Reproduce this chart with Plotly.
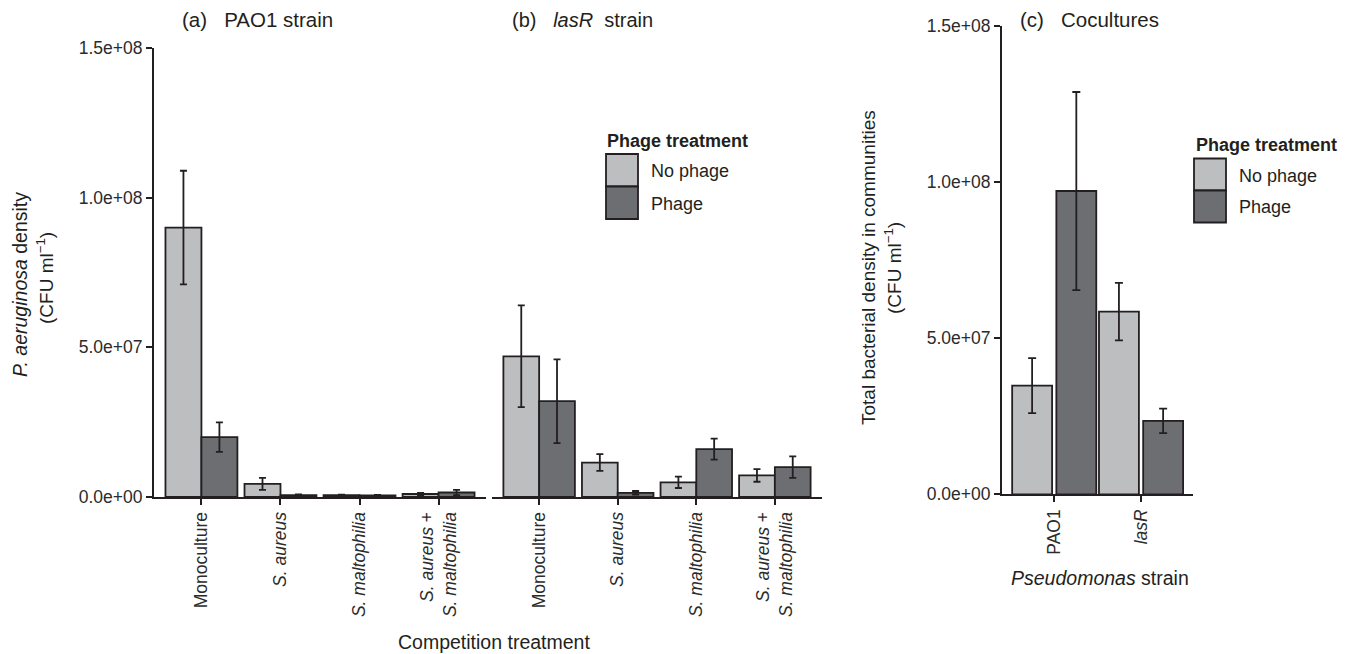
import plotly.graph_objects as go

W, H = 1354, 654

# ---------------- data ----------------
competition = ["Monoculture", "S. aureus", "S. maltophilia", "S. aureus + S. maltophilia"]
competition_ticks = ["Monoculture", "<i>S. aureus</i>", "<i>S. maltophilia</i>",
                     "<i>S. aureus</i> +<br><i>S. maltophilia</i>"]
phage_groups = ["No phage", "Phage"]

pao1_nophage = [9.0e7, 4.4e6, 6.0e5, 1.0e6]
pao1_nophage_err = [1.9e7, 2.0e6, 2.0e5, 4.0e5]
pao1_phage = [2.0e7, 6.0e5, 5.0e5, 1.5e6]
pao1_phage_err = [4.9e6, 3.0e5, 2.0e5, 9.0e5]

lasr_nophage = [4.7e7, 1.15e7, 4.9e6, 7.2e6]
lasr_nophage_err = [1.7e7, 2.8e6, 1.9e6, 2.1e6]
lasr_phage = [3.2e7, 1.4e6, 1.6e7, 1.0e7]
lasr_phage_err = [1.4e7, 6.0e5, 3.5e6, 3.6e6]

strains = ["PAO1", "lasR"]
strain_ticks = ["PAO1", "<i>lasR</i>"]
coculture_nophage = [3.48e7, 5.85e7]
coculture_nophage_err = [8.8e6, 9.2e6]
coculture_phage = [9.71e7, 2.35e7]
coculture_phage_err = [3.17e7, 3.9e6]

y_tickvals = [0, 5e7, 1e8, 1.5e8]
y_ticktext = ["0.0e+00", "5.0e+07", "1.0e+08", "1.5e+08"]

# ---------------- style ----------------
FONT = "Liberation Sans, Arial, Helvetica, sans-serif"
INK = "#231f20"
TICK_INK = "#2b2b2b"
LIGHT = "#bdbec0"
DARK = "#6d6e71"
colors = {"No phage": LIGHT, "Phage": DARK}


def px(x):
    return x / W


def py(y):
    return 1 - y / H


fig = go.Figure()


def add_bars(x, y, err, name, xaxis, yaxis, offset, width, cap):
    fig.add_trace(go.Bar(
        x=x, y=y, name=name, xaxis=xaxis, yaxis=yaxis,
        offset=offset, width=width,
        marker=dict(color=colors[name], line=dict(color=INK, width=1.8)),
        error_y=dict(type="data", array=err, visible=True, color=INK,
                     thickness=1.8, width=cap),
        showlegend=False,
    ))


add_bars(competition, pao1_nophage, pao1_nophage_err, "No phage", "x", "y", -0.455, 0.455, 3.5)
add_bars(competition, pao1_phage, pao1_phage_err, "Phage", "x", "y", 0.0, 0.455, 3.5)
add_bars(competition, lasr_nophage, lasr_nophage_err, "No phage", "x2", "y", -0.455, 0.455, 3.5)
add_bars(competition, lasr_phage, lasr_phage_err, "Phage", "x2", "y", 0.0, 0.455, 3.5)
add_bars(strains, coculture_nophage, coculture_nophage_err, "No phage", "x3", "y2", -0.483, 0.46, 4)
add_bars(strains, coculture_phage, coculture_phage_err, "Phage", "x3", "y2", 0.026, 0.46, 4)

tickfont = dict(family=FONT, size=17.5, color=TICK_INK)
xcommon = dict(type="category", showline=True, linecolor=INK, linewidth=2,
               ticks="outside", ticklen=6, tickwidth=2, tickcolor=INK,
               tickangle=-90, tickfont=tickfont, showgrid=False, zeroline=False,
               fixedrange=True, automargin=False)
ycommon = dict(range=[0, 1.5e8], tickvals=y_tickvals, ticktext=y_ticktext,
               showline=True, linecolor=INK, linewidth=2,
               ticks="outside", ticklen=6, tickwidth=2, tickcolor=INK,
               tickfont=tickfont, showgrid=False, zeroline=False,
               fixedrange=True, automargin=False)

ab_y = [py(497), py(48)]
c_y = [py(494.3), py(25.8)]

fig.update_layout(
    width=W, height=H,
    autosize=False,
    margin=dict(l=0, r=0, t=0, b=0, pad=0, autoexpand=False),
    paper_bgcolor="white", plot_bgcolor="white",
    barmode="overlay",
    showlegend=False,
    font=dict(family=FONT, color=INK),
    xaxis=dict(domain=[px(154), px(486)], range=[-0.6, 3.6], anchor="y",
               categoryarray=competition, tickvals=competition,
               ticktext=competition_ticks, **xcommon),
    xaxis2=dict(domain=[px(492), px(822)], range=[-0.6, 3.6], anchor="y",
                categoryarray=competition, tickvals=competition,
                ticktext=competition_ticks, **xcommon),
    xaxis3=dict(domain=[px(1002), px(1193)], range=[-0.6, 1.6], anchor="y2",
                categoryarray=strains, tickvals=strains,
                ticktext=strain_ticks, **xcommon),
    yaxis=dict(domain=ab_y, anchor="x", **ycommon),
    yaxis2=dict(domain=c_y, anchor="x3", **ycommon),
)

annotations = []


def text(x, y, s, size=18, angle=0, xanchor="center", yanchor="middle", bold=False):
    if bold:
        s = "<b>" + s + "</b>"
    annotations.append(dict(x=px(x), y=py(y), xref="paper", yref="paper",
                            text=s, showarrow=False, textangle=angle,
                            xanchor=xanchor, yanchor=yanchor,
                            font=dict(family=FONT, size=size, color=INK)))


SP3 = "&nbsp;&nbsp;&nbsp;"
SP2 = "&nbsp;&nbsp;"
# panel titles
text(180, 20, "(a)" + SP3 + "PAO1 strain", size=20.5, xanchor="left")
text(510, 20, "(b)" + SP3 + "<i>lasR</i>" + SP2 + "strain", size=20, xanchor="left")
text(1018, 20, "(c)" + SP3 + "Cocultures", size=20.5, xanchor="left")

# axis titles
text(20, 285, "<i>P. aeruginosa</i> density", size=19.5, angle=-90)
text(45, 278, "(CFU ml<sup>−1</sup>)", size=19, angle=-90)
text(494, 642, "Competition treatment", size=19.5)
text(868, 268, "Total bacterial density in communities", size=19, angle=-90)
text(893, 268, "(CFU ml<sup>−1</sup>)", size=19, angle=-90)
text(1100, 578, "<i>Pseudomonas</i> strain", size=19.5)

# legends (drawn keys)
shapes = []


def legend(x0, ytitle, ykeys, title_x):
    text(title_x, ytitle, "Phage treatment", size=18, xanchor="left", bold=True)
    for i, name in enumerate(phage_groups):
        y0, y1 = ykeys[i], ykeys[i + 1]
        shapes.append(dict(type="rect", xref="paper", yref="paper",
                           x0=px(x0), x1=px(x0 + 32), y0=py(y1), y1=py(y0),
                           fillcolor=colors[name], line=dict(color=INK, width=1.8)))
        text(x0 + 43, (y0 + y1) / 2 + 1, name, size=18, xanchor="left")


legend(606, 141, [154, 186.5, 219], 605)
legend(1194, 145, [158.5, 190.5, 222.5], 1194)

fig.update_layout(annotations=annotations, shapes=shapes)

fig.write_html("out.html", config={"displayModeBar": False})
